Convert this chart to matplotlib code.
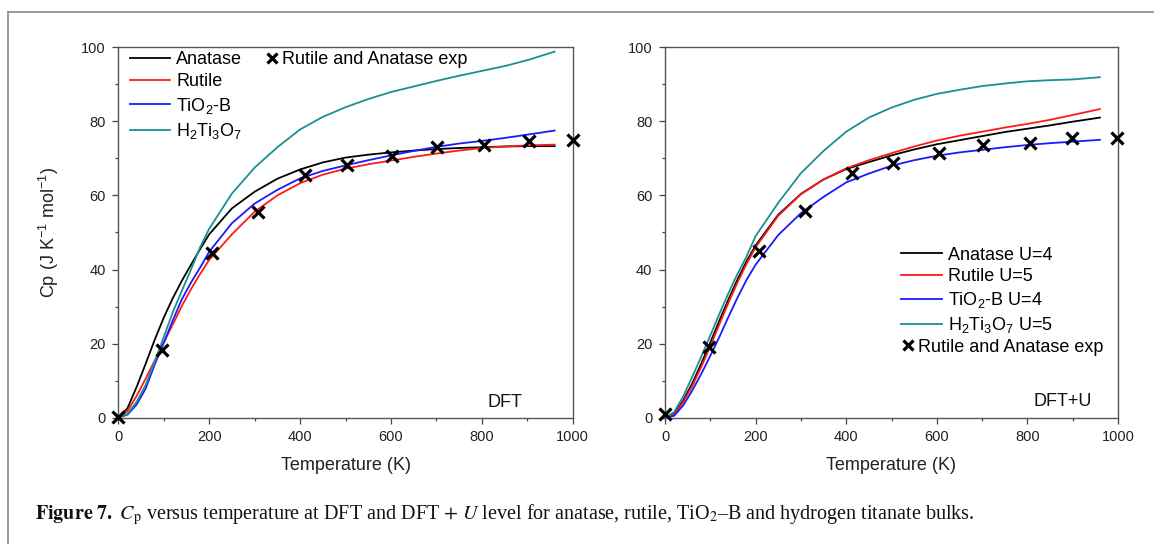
import numpy as np
import matplotlib
matplotlib.use("Agg")
import matplotlib.pyplot as plt
from matplotlib.lines import Line2D
from matplotlib.ticker import MultipleLocator

# =====================================================
# DATA
# =====================================================

T_CALC = [0, 20, 40, 60, 80, 100, 120, 140, 160, 180, 200, 250, 300, 350,
          400, 450, 500, 550, 600, 650, 700, 750, 800, 850, 900, 960]

# DFT panel
dft_anatase = [0, 2.5, 8.2, 14.5, 21.0, 27.0, 32.3, 37.0, 41.3, 45.5, 49.5, 56.5, 61.0,
               64.5, 67.0, 68.9, 70.2, 71.0, 71.6, 72.1, 72.5, 72.8, 73.0, 73.2, 73.3, 73.3]
dft_rutile = [0, 1.8, 5.8, 10.5, 15.4, 20.3, 25.2, 30.2, 34.7, 38.8, 42.6, 49.5, 55.6,
              60.0, 63.3, 65.6, 67.2, 68.4, 69.4, 70.4, 71.3, 72.1, 72.8, 73.2, 73.5, 73.7]
dft_tio2b = [0, 0.8, 3.5, 7.8, 14.3, 20.2, 26.3, 32.0, 36.5, 40.5, 44.8, 52.5, 57.8,
             61.5, 64.6, 66.6, 68.1, 69.5, 70.8, 72.0, 73.1, 74.0, 74.7, 75.5, 76.4, 77.5]
dft_h2ti3o7 = [0, 1.0, 4.2, 8.8, 15.0, 21.8, 28.5, 34.3, 40.0, 46.0, 51.0, 60.5, 67.5,
               73.0, 77.8, 81.2, 83.8, 86.0, 87.9, 89.4, 90.9, 92.3, 93.6, 94.9, 96.5, 98.8]

# DFT+U panel
dftu_anatase = [0, 1.0, 4.6, 9.2, 14.6, 20.3, 26.2, 31.9, 37.3, 42.2, 46.5, 54.8, 60.4,
                64.3, 67.1, 69.0, 70.8, 72.4, 73.8, 74.9, 76.0, 77.1, 78.0, 78.9, 79.9, 81.0]
dftu_rutile = [0, 0.8, 4.2, 8.5, 13.7, 19.3, 25.2, 31.0, 36.5, 41.5, 46.0, 54.5, 60.3,
               64.3, 67.3, 69.5, 71.4, 73.2, 74.8, 76.1, 77.2, 78.3, 79.3, 80.4, 81.7, 83.3]
dftu_tio2b = [0, 0.5, 3.3, 7.3, 11.8, 16.7, 21.8, 27.2, 32.4, 37.2, 41.3, 49.3, 55.2,
              59.6, 63.5, 65.9, 68.0, 69.5, 70.7, 71.6, 72.3, 73.0, 73.6, 74.1, 74.5, 75.0]
dftu_h2ti3o7 = [0, 1.5, 5.7, 11.0, 16.5, 22.2, 28.0, 33.6, 38.8, 43.5, 49.0, 58.0, 66.0,
                72.0, 77.2, 81.0, 83.7, 85.8, 87.4, 88.5, 89.5, 90.2, 90.8, 91.1, 91.3, 91.9]

# experimental points
exp_T_dft = [0, 97, 207, 308, 410, 503, 603, 702, 804, 903, 1000]
exp_cp_dft = [0.3, 18.4, 44.4, 55.4, 65.5, 68.2, 70.6, 73.0, 73.6, 74.6, 74.9]
exp_T_dftu = [0, 98, 208, 309, 412, 504, 604, 703, 806, 898, 998]
exp_cp_dftu = [0.9, 19.0, 45.1, 55.9, 66.0, 68.8, 71.4, 73.6, 74.2, 75.6, 75.6]

labels_dft = ["Anatase", "Rutile", r"TiO$_2$-B", r"H$_2$Ti$_3$O$_7$"]
labels_dftu = ["Anatase U=4", "Rutile U=5", r"TiO$_2$-B U=4", r"H$_2$Ti$_3$O$_7$ U=5"]
exp_label = "Rutile and Anatase exp"

colors = ["#000000", "#ff1a1a", "#1a1aff", "#1a9090"]

# =====================================================
# STYLE
# =====================================================

plt.rcParams["font.family"] = ["Liberation Sans", "DejaVu Sans"]
plt.rcParams["mathtext.fontset"] = "custom"
plt.rcParams["mathtext.rm"] = "Liberation Sans"
plt.rcParams["mathtext.it"] = "Liberation Sans:italic"
plt.rcParams["mathtext.bf"] = "Liberation Sans:bold"

W, H = 1154, 544
fig = plt.figure(figsize=(W / 100, H / 100), dpi=100)


def style_axes(ax):
    ax.set_xlim(0, 1000)
    ax.set_ylim(0, 100)
    ax.xaxis.set_major_locator(MultipleLocator(200))
    ax.xaxis.set_minor_locator(MultipleLocator(100))
    ax.yaxis.set_major_locator(MultipleLocator(20))
    ax.yaxis.set_minor_locator(MultipleLocator(10))
    ax.tick_params(which="both", direction="out", top=False, right=False,
                   color="#444444", width=0.9, labelsize=10.5, labelcolor="#222222")
    ax.tick_params(which="major", length=4, pad=5)
    ax.tick_params(which="minor", length=2.5)
    for s in ax.spines.values():
        s.set_color("#555555")
        s.set_linewidth(1.0)
    ax.set_xlabel("Temperature (K)", fontsize=13, color="#222222")
    ax.xaxis.set_label_coords(0.5, -0.105)


def draw_panel(ax, series, labels, exp_T, exp_cp, tag):
    handles = []
    for values, lab, c in zip(series, labels, colors):
        h, = ax.plot(T_CALC, values, color=c, lw=1.3, label=lab)
        handles.append(h)
    ax.plot(exp_T, exp_cp, ls="none", marker="x", color="black",
            markersize=8, mew=2.3, clip_on=False, zorder=5)
    style_axes(ax)
    ax.text(tag[1], tag[2], tag[0], transform=ax.transAxes, fontsize=13,
            ha="center", va="center", color="#111111")
    return handles


exp_handle = Line2D([], [], ls="none", marker="x", color="black",
                    markersize=6.5, mew=2.3)

# =====================================================
# LEFT PANEL : DFT
# =====================================================

ax1 = fig.add_axes([118.3 / W, 126.3 / H, 454.5 / W, 370.5 / H])
h1 = draw_panel(ax1, [dft_anatase, dft_rutile, dft_tio2b, dft_h2ti3o7],
                labels_dft, exp_T_dft, exp_cp_dft, ("DFT", 0.851, 0.04))
ax1.set_ylabel(r"Cp (J K$^{-1}$ mol$^{-1}$)", fontsize=13, color="#222222")
ax1.yaxis.set_label_coords(-0.125, 0.5)

leg1 = ax1.legend(handles=h1, loc="upper left", bbox_to_anchor=(0.026, 0.99),
                  frameon=False, fontsize=13, handlelength=2.2, handletextpad=0.35,
                  labelspacing=0.3, borderpad=0, borderaxespad=0)
ax1.add_artist(leg1)
ax1.legend(handles=[exp_handle], labels=[exp_label], loc="upper left",
           bbox_to_anchor=(0.327, 0.99), frameon=False, fontsize=13,
           handlelength=0.6, handletextpad=0.25, borderpad=0, borderaxespad=0)

# =====================================================
# RIGHT PANEL : DFT+U
# =====================================================

ax2 = fig.add_axes([665 / W, 126.3 / H, 453 / W, 370.5 / H])
h2 = draw_panel(ax2, [dftu_anatase, dftu_rutile, dftu_tio2b, dftu_h2ti3o7],
                labels_dftu, exp_T_dftu, exp_cp_dftu, ("DFT+U", 0.879, 0.043))

leg2 = ax2.legend(handles=h2, loc="upper left", bbox_to_anchor=(0.521, 0.462),
                  frameon=False, fontsize=13, handlelength=2.28, handletextpad=0.35,
                  labelspacing=0.27, borderpad=0, borderaxespad=0)
ax2.add_artist(leg2)
ax2.legend(handles=[exp_handle], labels=[exp_label], loc="upper left",
           bbox_to_anchor=(0.524, 0.2135), frameon=False, fontsize=13,
           handlelength=0.6, handletextpad=0.25, borderpad=0, borderaxespad=0)

# =====================================================
# FRAME AND CAPTION
# =====================================================

fx = 8.3 / W
fy = 1 - 12.3 / H
fig.add_artist(Line2D([fx, fx], [0, fy], color="#8a8a8a", lw=1.2))
fig.add_artist(Line2D([fx, 1], [fy, fy], color="#8a8a8a", lw=1.2))

caption = (r"$\mathbf{Figure\ 7.}$ $C_{\mathrm{p}}$ versus temperature at DFT and "
           r"DFT $+$ $U$ level for anatase, rutile, TiO$_2$–B and hydrogen titanate bulks.")
fig.text(35 / W, 1 - 515 / H, caption, fontsize=14.5, family="Liberation Serif",
         math_fontfamily="stix", ha="left", va="center", color="#111111")

fig.savefig("out.png", dpi=100)
plt.close()
